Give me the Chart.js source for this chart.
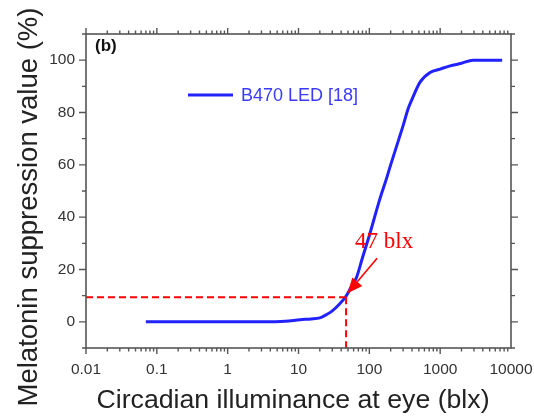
<!DOCTYPE html>
<html><head><meta charset="utf-8">
<script src="https://cdn.jsdelivr.net/npm/chart.js@4/dist/chart.umd.min.js"></script>
<style>html,body{margin:0;padding:0;background:#fff;} #c{display:block;}</style>
</head><body>
<canvas id="c" width="534" height="416"></canvas>
<script>
// ---- data ----
const illuminance = [0.07, 0.3, 1, 3, 6.5, 10.5, 15, 20, 25, 30, 38, 47, 56, 66, 80, 100, 142, 176, 200, 300, 355, 400, 520, 720, 1000, 1380, 2000, 2900, 7500];
const suppression = [0, 0, 0, 0, 0.2, 0.8, 1.1, 1.5, 2.8, 4.2, 6.8, 9.8, 13.5, 17, 24.5, 33, 47.3, 55, 60, 75, 81.6, 85, 91.6, 95.3, 96.6, 97.8, 98.8, 100, 100];
const seriesName = 'B470 LED [18]';
const xTickValues = [0.01, 0.1, 1, 10, 100, 1000, 10000];
const xTickLabels = ['0.01', '0.1', '1', '10', '100', '1000', '10000'];
const yTickValues = [0, 20, 40, 60, 80, 100];
const yMinorValues = [-10, 10, 30, 50, 70, 90, 110];
const annotX = 47;
const annotY = 9.4;
const annotText = '47 blx';
const panelLabel = '(b)';
const xTitle = 'Circadian illuminance at eye (blx)';
const yTitle = 'Melatonin suppression value (%)';

const lineColor = '#2222ff';
const axisColor = '#555';
const sans = '"Liberation Sans", Arial, sans-serif';

const overlay = {
  id: 'overlay',
  afterDatasetsDraw(chart) {
    const {ctx, chartArea: a, scales: {x, y}} = chart;
    ctx.save();
    const px = x.getPixelForValue(annotX), py = y.getPixelForValue(annotY);
    ctx.strokeStyle = '#ff0000';
    ctx.lineWidth = 2;
    ctx.setLineDash([7, 4]);
    ctx.beginPath();
    ctx.moveTo(a.left, py); ctx.lineTo(px, py);
    ctx.moveTo(px, py); ctx.lineTo(px, a.bottom + 2);
    ctx.stroke();
    ctx.setLineDash([]);
    // arrow
    const tx = px + 31, ty = py - 39, hx = px + 1.5, hy = py - 4;
    const ang = Math.atan2(hy - ty, hx - tx);
    const hl = 15, hw = 6.5;
    const bx = hx - hl * Math.cos(ang), by = hy - hl * Math.sin(ang);
    ctx.lineWidth = 1.6;
    ctx.beginPath(); ctx.moveTo(tx, ty); ctx.lineTo(bx, by); ctx.stroke();
    ctx.fillStyle = '#ff0000';
    ctx.beginPath();
    ctx.moveTo(hx, hy);
    ctx.lineTo(bx + hw * Math.sin(ang), by - hw * Math.cos(ang));
    ctx.lineTo(bx - hw * Math.sin(ang), by + hw * Math.cos(ang));
    ctx.closePath(); ctx.fill();
    ctx.font = '23px "Liberation Serif", "Times New Roman", serif';
    ctx.textAlign = 'left'; ctx.textBaseline = 'alphabetic';
    ctx.fillText(annotText, px + 9, py - 49);
    ctx.restore();
  },
  afterDraw(chart) {
    const {ctx, chartArea: a, scales: {x, y}} = chart;
    ctx.save();
    ctx.strokeStyle = axisColor;
    ctx.lineWidth = 1.4;
    ctx.beginPath();
    for (let e = -2; e < 4; e++) {
      for (let m = 1; m < 10; m++) {
        const v = m * Math.pow(10, e);
        const p = x.getPixelForValue(v);
        const L = m === 1 ? 6 : 3.5;
        ctx.moveTo(p, a.bottom); ctx.lineTo(p, a.bottom + L);
        ctx.moveTo(p, a.top); ctx.lineTo(p, a.top - L);
      }
    }
    for (const v of yTickValues) {
      const p = y.getPixelForValue(v);
      ctx.moveTo(a.left, p); ctx.lineTo(a.left - 7, p);
      ctx.moveTo(a.right, p); ctx.lineTo(a.right + 7, p);
    }
    for (const v of yMinorValues) {
      const p = y.getPixelForValue(v);
      ctx.moveTo(a.left, p); ctx.lineTo(a.left - 4, p);
      ctx.moveTo(a.right, p); ctx.lineTo(a.right + 4, p);
    }
    ctx.stroke();
    ctx.lineWidth = 1.6;
    ctx.strokeRect(a.left, a.top, a.right - a.left, a.bottom - a.top);
    // y title
    ctx.save();
    ctx.translate(37, 207);
    ctx.rotate(-Math.PI / 2);
    ctx.fillStyle = '#222';
    ctx.font = '27.5px ' + sans;
    ctx.textAlign = 'center'; ctx.textBaseline = 'alphabetic';
    ctx.fillText(yTitle, 0, 0);
    ctx.restore();
    // x title
    ctx.fillStyle = '#222';
    ctx.font = '26.7px ' + sans;
    ctx.textAlign = 'center'; ctx.textBaseline = 'alphabetic';
    ctx.fillText(xTitle, 293, 408);
    // panel label
    ctx.fillStyle = '#111';
    ctx.font = 'bold 17px ' + sans;
    ctx.textAlign = 'left'; ctx.textBaseline = 'alphabetic';
    ctx.fillText(panelLabel, a.left + 9, a.top + 17);
    // legend
    const ds = chart.data.datasets[0];
    ctx.strokeStyle = ds.borderColor; ctx.lineWidth = 3;
    ctx.beginPath(); ctx.moveTo(a.left + 102, a.top + 61); ctx.lineTo(a.left + 147, a.top + 61); ctx.stroke();
    ctx.fillStyle = '#3a3aff';
    ctx.font = '18px ' + sans;
    ctx.textBaseline = 'middle';
    ctx.fillText(ds.label, a.left + 155, a.top + 62);
    ctx.restore();
  }
};

new Chart(document.getElementById('c'), {
  type: 'line',
  data: {
    datasets: [{
      label: seriesName,
      data: illuminance.map((v, i) => ({x: v, y: suppression[i]})),
      borderColor: lineColor,
      borderWidth: 3,
      pointRadius: 0,
      fill: false,
      cubicInterpolationMode: 'monotone'
    }]
  },
  options: {
    responsive: false,
    animation: false,
    devicePixelRatio: 1,
    layout: {padding: {left: 0, right: 23, top: 34, bottom: 0}},
    plugins: {legend: {display: false}, tooltip: {enabled: false}},
    scales: {
      x: {
        type: 'logarithmic',
        min: 0.01, max: 10000,
        afterBuildTicks: s => { s.ticks = xTickValues.map(v => ({value: v})); },
        afterFit: s => { s.height = 68; s.paddingLeft = 0; s.paddingRight = 0; },
        grid: {display: false, drawTicks: false},
        border: {display: false},
        ticks: {
          autoSkip: false, maxRotation: 0, minRotation: 0, padding: 12,
          color: '#333',
          font: {family: sans, size: 15.5},
          callback: (v, i) => xTickLabels[i]
        },
        title: {display: false}
      },
      y: {
        type: 'linear',
        min: -10, max: 110,
        afterBuildTicks: s => { s.ticks = yTickValues.map(v => ({value: v})); },
        afterFit: s => { s.width = 86; s.paddingTop = 0; s.paddingBottom = 0; },
        grid: {display: false, drawTicks: false},
        border: {display: false},
        ticks: {
          padding: 11, color: '#333',
          font: {family: sans, size: 15.5},
          callback: v => String(v)
        },
        title: {display: false}
      }
    }
  },
  plugins: [overlay]
});
</script>
</body></html>
